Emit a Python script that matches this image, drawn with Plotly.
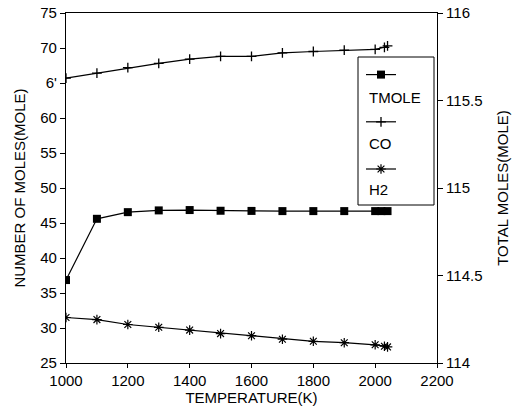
import plotly.graph_objects as go

# Data
temp_tmole = [1000, 1100, 1200, 1300, 1400, 1500, 1600, 1700, 1800, 1900, 2000, 2020, 2040]
tmole = [114.474, 114.824, 114.862, 114.872, 114.874, 114.870, 114.869, 114.868, 114.868, 114.868, 114.868, 114.868, 114.868]

temp_gas = [1000, 1100, 1200, 1300, 1400, 1500, 1600, 1700, 1800, 1900, 2000, 2030, 2040]
co = [65.7, 66.4, 67.2, 67.8, 68.4, 68.8, 68.8, 69.3, 69.5, 69.7, 69.8, 70.1, 70.3]
h2 = [31.5, 31.2, 30.5, 30.1, 29.7, 29.2, 28.9, 28.4, 28.1, 27.9, 27.6, 27.4, 27.3]

left_ticks = [25, 30, 35, 40, 45, 50, 55, 60, 65, 70, 75]
left_ticktext = ["25", "30", "35", "40", "45", "50", "55", "60", "6'", "70", "75"]
x_ticks = [1000, 1200, 1400, 1600, 1800, 2000, 2200]
x_ticktext = ["1000", "1200", "1400", "1600", "1800", "2000", "2200"]
right_ticks = [114, 114.5, 115, 115.5, 116]
right_ticktext = ["114", "114.5", "115", "115.5", "116"]
legend_labels = ["TMOLE", "CO", "H2"]

FONT = "Liberation Sans, Arial, sans-serif"
# plot area in page pixels
PL, PR, PT, PB = 66, 437, 13, 363
W, H = 527, 409
L, T = PL, PT
R, B = W - PR, H - PB
PW, PH = PR - PL, PB - PT

def px2x(px):
    return (px - PL) / PW

def px2y(py):
    return 1 - (py - PT) / PH

fig = go.Figure()
fig.add_trace(go.Scatter(
    x=temp_tmole, y=tmole, yaxis="y2", mode="lines+markers", name=" ",
    legendgroup="a", line=dict(color="black", width=1.2),
    marker=dict(symbol="square", size=8, color="black")))
fig.add_trace(go.Scatter(
    x=temp_gas, y=co, mode="lines+markers", name=" ", legendgroup="b",
    line=dict(color="black", width=1.2),
    marker=dict(symbol="cross-thin", size=7, line=dict(color="black", width=1.3))))
fig.add_trace(go.Scatter(
    x=temp_gas, y=h2, mode="lines+markers", name=" ", legendgroup="c",
    line=dict(color="black", width=1.2),
    marker=dict(symbol="asterisk-open", size=8, line=dict(color="black", width=1.2))))

annotations = []
for lab, py in zip(legend_labels, [97, 143, 190]):
    annotations.append(dict(
        text=lab, x=px2x(367), y=px2y(py), xref="paper", yref="paper",
        xanchor="left", yanchor="middle", showarrow=False,
        font=dict(family=FONT, size=15, color="black")))

fig.update_layout(
    width=W, height=H,
    margin=dict(l=L, r=R, t=T, b=B, autoexpand=False),
    paper_bgcolor="white", plot_bgcolor="white",
    font=dict(family=FONT, size=15, color="black"),
    showlegend=True,
    legend=dict(x=px2x(361), y=px2y(59), xanchor="left", yanchor="top",
                bgcolor="rgba(0,0,0,0)", borderwidth=0,
                tracegroupgap=26, itemwidth=30,
                font=dict(family=FONT, size=14)),
    xaxis=dict(range=[1000, 2200], tickvals=x_ticks, ticktext=x_ticktext,
               automargin=False,
               showgrid=False, zeroline=False, showline=True, linecolor="black",
               linewidth=1.2, mirror=True, ticks="outside", ticklen=4,
               tickcolor="black",
               title=dict(text="TEMPERATURE(K)", standoff=0,
                          font=dict(family=FONT, size=15))),
    yaxis=dict(range=[25, 75], tickvals=left_ticks, ticktext=left_ticktext,
               automargin=False,
               showgrid=False, zeroline=False, showline=True, linecolor="black",
               linewidth=1.2, ticks="outside", ticklen=5, tickcolor="black",
               title=dict(text="NUMBER OF MOLES(MOLE)", standoff=10,
                          font=dict(family=FONT, size=15))),
    yaxis2=dict(range=[114, 116], tickvals=right_ticks, ticktext=right_ticktext,
                overlaying="y", side="right", automargin=False,
                showgrid=False, zeroline=False, showline=True, linecolor="black",
                linewidth=1.2, ticks="outside", ticklen=5, tickcolor="black",
                title=dict(text="TOTAL MOLES(MOLE)", standoff=15,
                           font=dict(family=FONT, size=15))),
    shapes=[dict(type="rect", xref="paper", yref="paper",
                 x0=px2x(358), x1=px2x(434), y0=px2y(205), y1=px2y(57),
                 line=dict(color="black", width=1))],
    annotations=annotations,
)

fig.write_html("out.html",
               config={"displayModeBar": False},
               post_script="document.body.style.margin='0';document.body.style.padding='0';")
